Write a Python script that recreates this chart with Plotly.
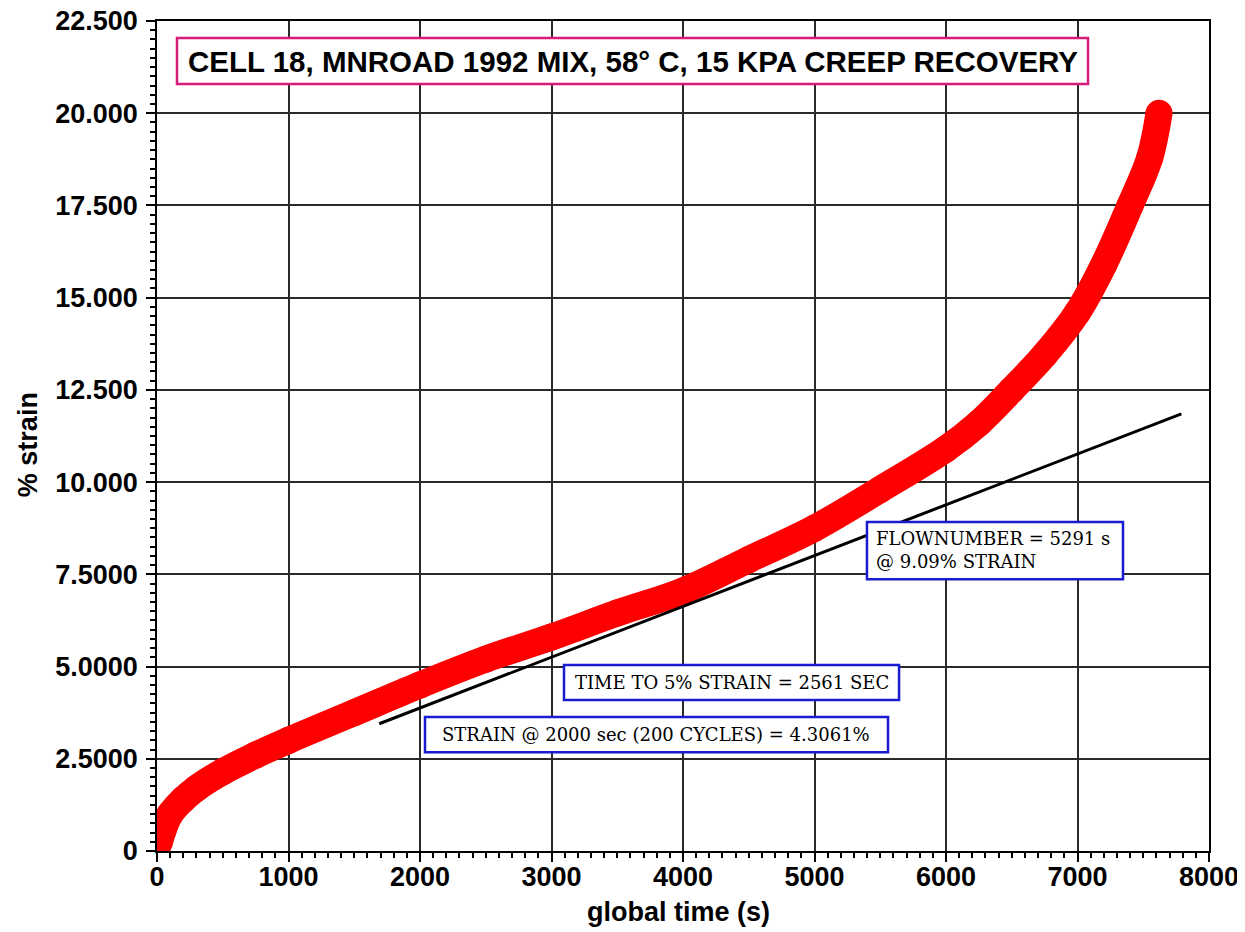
import plotly.graph_objects as go

# ---- data ----
time_s = [15, 50, 100, 200, 300, 500, 750, 1000, 1500, 2000, 2500, 3000, 3500,
          4000, 4500, 5000, 5500, 6000, 6250, 6500, 6750, 7000, 7200, 7400, 7550, 7620]
strain_pct = [0.2, 0.6, 1.0, 1.4, 1.7, 2.15, 2.6, 3.0, 3.75, 4.5, 5.2, 5.8, 6.45,
              7.05, 7.9, 8.75, 9.8, 10.9, 11.6, 12.5, 13.45, 14.6, 15.9, 17.5, 18.8, 20.0]

flow_line_x = [1690, 7790]
flow_line_y = [3.45, 11.85]

y_tickvals = [0, 2.5, 5, 7.5, 10, 12.5, 15, 17.5, 20, 22.5]
y_ticktext = ["0", "2.5000", "5.0000", "7.5000", "10.000", "12.500", "15.000",
              "17.500", "20.000", "22.500"]
x_tickvals = [0, 1000, 2000, 3000, 4000, 5000, 6000, 7000, 8000]
x_ticktext = ["0", "1000", "2000", "3000", "4000", "5000", "6000", "7000", "8000"]

title_text = "CELL 18, MNROAD 1992 MIX, 58° C, 15 KPA CREEP RECOVERY"
note_flow = "FLOWNUMBER = 5291 s<br>@ 9.09% STRAIN"
note_time = "TIME TO 5% STRAIN = 2561 SEC"
note_strain = "STRAIN @ 2000 sec (200 CYCLES) = 4.3061%"

SANS = "Liberation Sans, Arial, sans-serif"
SERIF = "DejaVu Serif, Georgia, serif"

fig = go.Figure()
fig.add_trace(go.Scatter(
    x=time_s, y=strain_pct, mode="lines+markers",
    line=dict(color="#ff0000", width=27, shape="spline", smoothing=1.0),
    marker=dict(color="#ff0000", size=27, line=dict(width=0)),
    showlegend=False, hoverinfo="skip"))
fig.add_trace(go.Scatter(
    x=flow_line_x, y=flow_line_y, mode="lines",
    line=dict(color="black", width=3),
    showlegend=False, hoverinfo="skip"))

axis_common = dict(
    showgrid=True, gridcolor="#2a2a2a", gridwidth=1.5,
    showline=True, linecolor="black", linewidth=1.5, mirror=True,
    ticks="outside", ticklen=9, tickwidth=1.5, tickcolor="black",
    tickfont=dict(family=SANS, size=27, color="black", weight="bold"),
    zeroline=False, automargin=False, ticklabeloverflow="allow",
)

fig.update_layout(
    width=1245, height=932,
    paper_bgcolor="white", plot_bgcolor="white",
    margin=dict(l=149, r=44, t=13, b=89),
    xaxis=dict(range=[0, 8000], tickvals=x_tickvals, ticktext=x_ticktext,
               minor=dict(dtick=100, ticklen=5, tickcolor="black", ticks="outside",
                          showgrid=False),
               ticklabelstandoff=-8,
               **axis_common),
    yaxis=dict(range=[0, 22.5], tickvals=y_tickvals, ticktext=y_ticktext,
               minor=dict(dtick=0.25, ticklen=5, tickcolor="black", ticks="outside",
                          showgrid=False),
               ticklabelstandoff=3,
               **axis_common),
)

# title box
fig.add_shape(type="rect", xref="x", yref="y", x0=152, x1=7080, y0=20.79, y1=22.04,
              line=dict(color="#d81b7a", width=2.5), fillcolor="white", layer="above")
fig.add_annotation(x=3616, y=21.41, xref="x", yref="y", text=title_text,
                   showarrow=False, font=dict(family=SANS, size=29.5, color="black", weight="bold"))

# blue annotation boxes
boxes = [
    (5399, 7346, 7.37, 8.92),
    (3095, 5643, 4.09, 5.04),
    (2038, 5559, 2.68, 3.63),
]
for x0, x1, y0, y1 in boxes:
    fig.add_shape(type="rect", xref="x", yref="y", x0=x0, x1=x1, y0=y0, y1=y1,
                  line=dict(color="#1a1ad0", width=2.5), fillcolor="white", layer="above")

fig.add_annotation(x=5450, y=8.15, xref="x", yref="y", text=note_flow, xanchor="left",
                   align="left", showarrow=False,
                   font=dict(family=SERIF, size=18, color="black"))
fig.add_annotation(x=4369, y=4.57, xref="x", yref="y", text=note_time,
                   showarrow=False, font=dict(family=SERIF, size=18, color="black"))
fig.add_annotation(x=3798, y=3.16, xref="x", yref="y", text=note_strain,
                   showarrow=False, font=dict(family=SERIF, size=18, color="black"))

# axis titles
fig.add_annotation(x=0.496, y=-0.0735, xref="paper", yref="paper", text="global time (s)",
                   xanchor="center", yanchor="middle",
                   showarrow=False, font=dict(family=SANS, size=27, color="black", weight="bold"))
fig.add_annotation(x=-0.1226, y=0.489, xref="paper", yref="paper", text="% strain",
                   xanchor="center", yanchor="middle",
                   textangle=-90, showarrow=False,
                   font=dict(family=SANS, size=27, color="black", weight="bold"))

fig.write_html("out.html")
